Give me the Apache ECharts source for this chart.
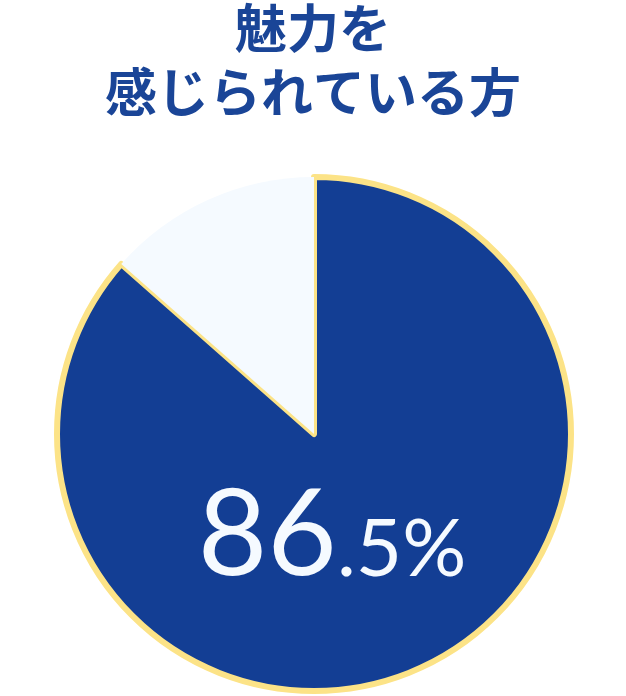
<!DOCTYPE html>
<html>
<head>
    <meta charset="utf-8">
    <title>魅力を感じられている方</title>
    <script src="https://cdn.jsdelivr.net/npm/echarts@6/dist/echarts.min.js"></script>
    <style>
        html, body { margin: 0; padding: 0; background: #fff; }
    </style>
</head>
<body>
<div id="main" style="width: 626px;height:696px;"></div>

<script>
    // データ
    var titleLines = ['魅力を', '感じられている方'];
    var categories = ['魅力を感じている', 'その他'];
    var values = [86.5, 13.5];
    var colors = ['#133e94', '#f5faff'];

    var myChart = echarts.init(document.getElementById('main'));

    var option = {
        animation: false,
        title: {
            text: titleLines.join('\n'),
            left: 'center',
            top: -4,
            padding: 0,
            textStyle: {
                fontFamily: 'Noto Sans CJK JP',
                fontSize: 52,
                fontWeight: 'bold',
                color: '#1a4597',
                lineHeight: 64
            }
        },
        series: [{
            type: 'pie',
            center: [314, 434],
            radius: 257,
            startAngle: 90,
            clockwise: true,
            silent: true,
            data: categories.map(function (name, i) {
                return {
                    name: name,
                    value: values[i],
                    itemStyle: {
                        color: colors[i],
                        borderColor: i === 0 ? '#fce387' : 'transparent',
                        borderWidth: i === 0 ? 6 : 0
                    },
                    label: {show: i === 0}
                };
            }),
            label: {
                position: 'inside',
                formatter: function (p) {
                    var s = p.value.toFixed(1).split('.');
                    return '{a|' + s[0] + '}{b|.' + s[1] + '%}';
                },
                rich: {
                    a: {
                        fontFamily: 'Lato',
                        fontSize: 120,
                        color: '#f5faff',
                        lineHeight: 120,
                        verticalAlign: 'bottom'
                    },
                    b: {
                        fontFamily: 'Lato',
                        fontSize: 80,
                        color: '#f5faff',
                        lineHeight: 80,
                        verticalAlign: 'bottom',
                        padding: [0, 0, 6, 0]
                    }
                }
            },
            labelLine: {show: false},
            labelLayout: function () {
                return {x: 332, y: 536, align: 'center', verticalAlign: 'middle'};
            }
        }]
    };
    myChart.setOption(option);
</script>
</body>
</html>
